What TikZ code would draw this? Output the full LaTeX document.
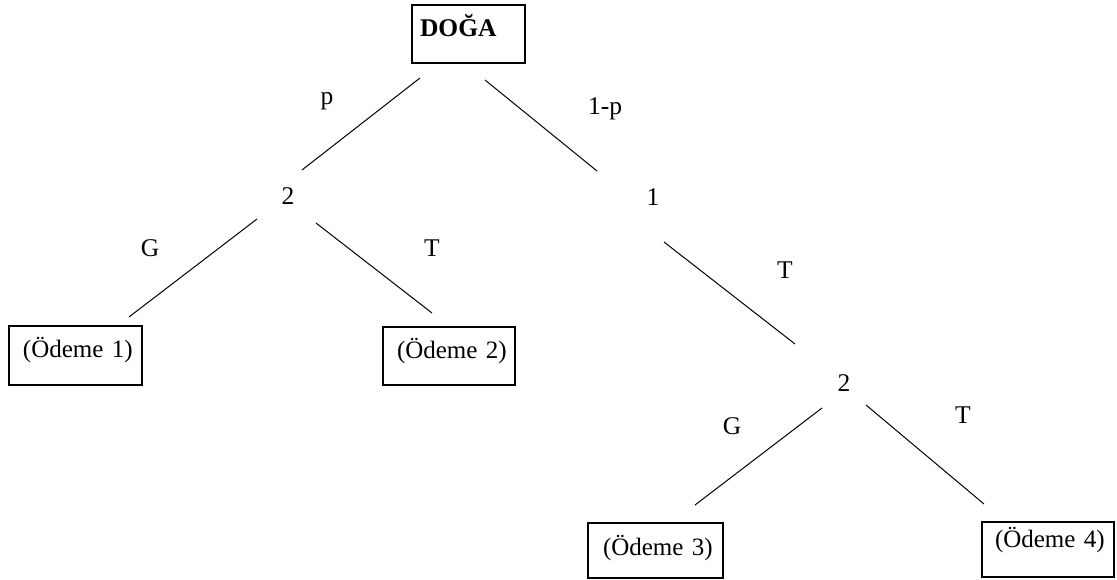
\documentclass[tikz,border=0pt]{standalone}
\usepackage{fontspec}
\setmainfont{Liberation Serif}
\begin{document}
\begin{tikzpicture}[x=1pt,y=-1pt,
  txt/.style={font=\fontsize{25.5}{30}\selectfont},
  box/.style={txt, draw, line width=1.3pt, inner ysep=0pt, align=left},
  lab/.style={txt, anchor=base, inner sep=0pt},
  branch/.style={line width=1pt}]
\useasboundingbox (0,0) rectangle (1117,580);
% boxes
\node[box, inner xsep=8pt, text width=97pt, text height=32pt, text depth=26pt,
      font=\fontsize{25.5}{30}\selectfont\bfseries] (doga) at (468.5,34) {\mbox{DOĞA}};
\node[box, font=\fontsize{25}{30}\selectfont, inner xsep=14pt, text width=105pt, text height=31pt, text depth=28pt] (o1) at (75.5,355.5) {\mbox{(Ödeme 1)}};
\node[box, font=\fontsize{25}{30}\selectfont, inner xsep=14pt, text width=104pt, text height=31pt, text depth=27pt] (o2) at (449,356) {\mbox{(Ödeme 2)}};
\node[box, font=\fontsize{25}{30}\selectfont, inner xsep=15pt, text width=105pt, text height=32pt, text depth=23pt] (o3) at (655.5,550.5) {\mbox{(Ödeme 3)}};
\node[box, font=\fontsize{25}{30}\selectfont, inner xsep=13pt, text width=106pt, text height=25pt, text depth=30pt] (o4) at (1048,549.5) {\mbox{(Ödeme 4)}};
% decision nodes
\node[lab] (n2a) at (288,205) {2};
\node[lab] (n1) at (653,206) {1};
\node[lab] (n2b) at (844,391) {2};
% branch labels
\node[lab] (lp) at (327,105) {p};
\node[lab] (l1p) at (605,115) {1-p};
\node[lab] (lg1) at (150,257) {G};
\node[lab] (lt1) at (432,257) {T};
\node[lab] (lt2) at (785,279) {T};
\node[lab] (lg2) at (732,434) {G};
\node[lab] (lt3) at (963,423) {T};
% connector ends
\coordinate (a1) at (420,78);  \coordinate (b1) at (302,170);
\coordinate (a2) at (485,80);  \coordinate (b2) at (597,171);
\coordinate (a3) at (257,219); \coordinate (b3) at (129,317);
\coordinate (a4) at (316,223); \coordinate (b4) at (432,313);
\coordinate (a5) at (664,242); \coordinate (b5) at (795,344);
\coordinate (a6) at (822,408); \coordinate (b6) at (695,505);
\coordinate (a7) at (866,405); \coordinate (b7) at (984,504);
\draw[branch] (a1) -- (b1);
\draw[branch] (a2) -- (b2);
\draw[branch] (a3) -- (b3);
\draw[branch] (a4) -- (b4);
\draw[branch] (a5) -- (b5);
\draw[branch] (a6) -- (b6);
\draw[branch] (a7) -- (b7);
\end{tikzpicture}
\end{document}
